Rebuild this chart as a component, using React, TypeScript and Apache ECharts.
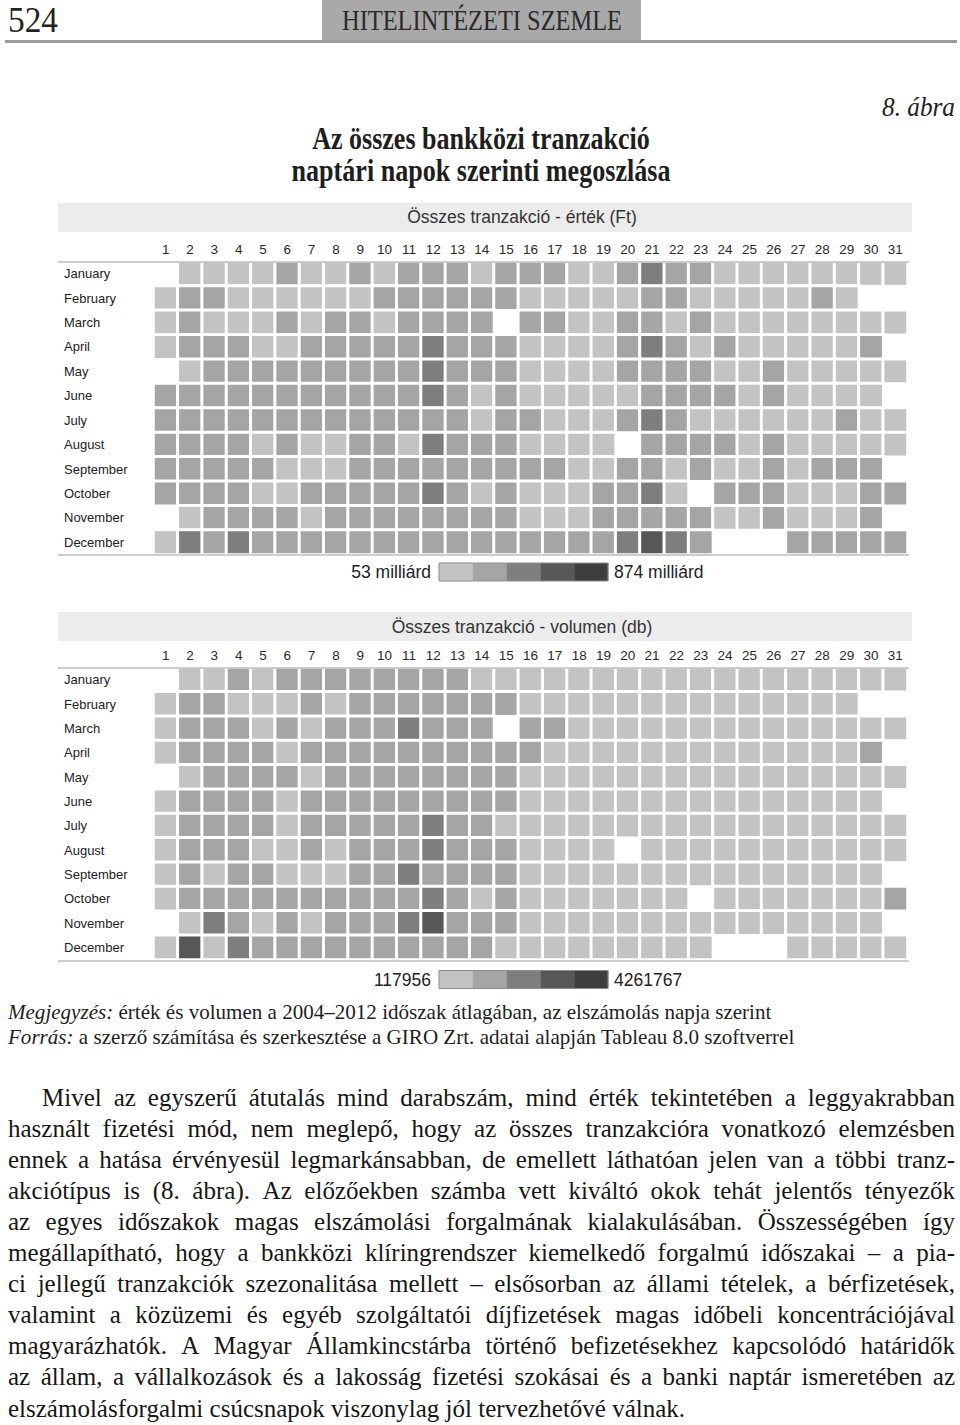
import React, { useEffect, useRef } from "react";
import * as echarts from "echarts";

// ---------- categories / tick labels ----------
const DAYS = ["1","2","3","4","5","6","7","8","9","10","11","12","13","14","15","16","17","18","19","20","21","22","23","24","25","26","27","28","29","30","31"];
const MONTHS = ["January","February","March","April","May","June","July","August","September","October","November","December"];

// ---------- Összes tranzakció - érték (milliárd Ft), estimated per day ----------
const VAL_JAN = [null,170,170,170,170,300,170,170,300,170,300,300,300,170,300,300,300,170,170,300,460,300,300,170,170,170,170,170,170,170,170];
const VAL_FEB = [170,300,300,170,170,170,170,170,170,300,300,300,300,300,300,170,170,170,170,170,300,300,170,170,170,170,170,300,170,null,null];
const VAL_MAR = [170,300,170,170,170,300,170,300,300,170,300,300,300,300,null,300,300,170,170,300,300,170,300,170,170,170,170,170,170,170,170];
const VAL_APR = [170,300,300,300,170,170,300,300,300,300,300,460,300,300,300,170,170,170,170,300,460,300,170,300,170,170,170,170,170,300,null];
const VAL_MAY = [null,170,300,300,300,300,300,300,300,300,300,460,300,300,300,170,170,170,170,300,300,300,300,170,170,300,170,170,170,170,170];
const VAL_JUN = [300,300,300,300,300,300,300,300,300,300,300,460,300,170,300,170,170,170,170,170,300,300,300,300,170,300,170,170,170,170,null];
const VAL_JUL = [300,300,300,300,300,300,300,300,300,300,300,300,300,170,300,300,170,170,170,300,460,300,170,170,170,170,170,170,300,170,170];
const VAL_AUG = [300,300,300,300,170,300,170,170,300,300,170,460,300,300,300,170,170,170,170,null,300,300,300,300,170,300,170,170,170,170,170];
const VAL_SEP = [300,300,300,300,300,170,170,170,300,300,300,300,300,300,300,300,300,170,170,300,300,170,300,170,170,300,170,300,300,300,null];
const VAL_OCT = [300,300,300,300,170,170,300,300,300,300,300,460,300,170,300,170,170,170,300,300,460,170,null,300,300,300,170,170,170,300,300];
const VAL_NOV = [null,170,300,300,300,300,170,300,300,300,300,300,300,300,300,170,170,170,300,300,300,300,300,170,170,300,170,170,170,300,null];
const VAL_DEC = [170,460,300,460,300,300,300,300,300,300,300,300,300,300,300,300,300,300,300,460,680,460,300,null,null,null,300,300,300,300,300];

// ---------- Összes tranzakció - volumen (db), estimated per day ----------
const VOL_JAN = [null,700000,700000,1400000,700000,1400000,1400000,1400000,1400000,1400000,1400000,1400000,1400000,700000,700000,700000,700000,700000,700000,700000,700000,700000,700000,700000,700000,700000,700000,700000,700000,700000,700000];
const VOL_FEB = [700000,1400000,1400000,700000,700000,700000,1400000,700000,1400000,1400000,1400000,1400000,1400000,1400000,1400000,700000,700000,700000,700000,700000,700000,700000,700000,700000,700000,700000,700000,700000,700000,null,null];
const VOL_MAR = [700000,1400000,1400000,1400000,700000,1400000,700000,1400000,1400000,1400000,2200000,1400000,1400000,1400000,null,1400000,1400000,700000,700000,700000,700000,700000,700000,700000,700000,700000,700000,700000,700000,700000,700000];
const VOL_APR = [700000,1400000,1400000,1400000,1400000,700000,1400000,1400000,1400000,1400000,1400000,1400000,1400000,1400000,1400000,1400000,700000,700000,700000,700000,700000,700000,700000,700000,700000,700000,700000,700000,700000,1400000,null];
const VOL_MAY = [null,700000,1400000,1400000,1400000,1400000,700000,1400000,1400000,1400000,1400000,1400000,1400000,1400000,1400000,700000,700000,700000,700000,700000,700000,700000,700000,700000,700000,700000,700000,700000,700000,700000,700000];
const VOL_JUN = [700000,1400000,1400000,1400000,1400000,700000,1400000,1400000,1400000,1400000,1400000,1400000,1400000,1400000,1400000,700000,700000,700000,700000,700000,700000,700000,700000,700000,700000,700000,700000,700000,700000,700000,null];
const VOL_JUL = [700000,1400000,1400000,1400000,1400000,700000,1400000,1400000,1400000,1400000,1400000,2200000,1400000,1400000,700000,700000,700000,700000,700000,700000,700000,700000,700000,700000,700000,700000,700000,700000,700000,700000,700000];
const VOL_AUG = [700000,1400000,1400000,1400000,700000,700000,1400000,700000,1400000,1400000,1400000,2200000,1400000,1400000,1400000,700000,700000,700000,700000,null,700000,700000,700000,700000,700000,700000,700000,700000,700000,700000,700000];
const VOL_SEP = [700000,1400000,700000,1400000,1400000,700000,700000,700000,1400000,1400000,2200000,1400000,1400000,1400000,1400000,700000,700000,700000,700000,700000,700000,700000,700000,700000,700000,700000,700000,700000,700000,700000,null];
const VOL_OCT = [700000,1400000,1400000,1400000,1400000,1400000,1400000,1400000,1400000,1400000,1400000,2200000,1400000,700000,1400000,700000,700000,700000,700000,700000,700000,700000,null,700000,700000,700000,700000,700000,700000,700000,1400000];
const VOL_NOV = [null,700000,2200000,1400000,700000,1400000,700000,1400000,1400000,1400000,2200000,3100000,1400000,1400000,1400000,700000,700000,700000,700000,700000,700000,700000,700000,700000,700000,700000,700000,700000,700000,700000,null];
const VOL_DEC = [700000,3300000,700000,2200000,1400000,1400000,1400000,1400000,1400000,1400000,1400000,1400000,1400000,1400000,700000,700000,700000,700000,700000,700000,700000,700000,700000,null,null,null,700000,700000,700000,700000,700000];

const VAL_ROWS = [VAL_JAN, VAL_FEB, VAL_MAR, VAL_APR, VAL_MAY, VAL_JUN, VAL_JUL, VAL_AUG, VAL_SEP, VAL_OCT, VAL_NOV, VAL_DEC];
const VOL_ROWS = [VOL_JAN, VOL_FEB, VOL_MAR, VOL_APR, VOL_MAY, VOL_JUN, VOL_JUL, VOL_AUG, VOL_SEP, VOL_OCT, VOL_NOV, VOL_DEC];

// colour-scale ranges (legend ends)
const VAL_RANGE = [53, 874];
const VOL_RANGE = [117956, 4261767];
const STEP_COLORS = ["#c3c3c3", "#a5a5a5", "#7e7e7e", "#575757", "#3e3e3e"];

// ---------- texts ----------
const PAGE_NO = "524";
const RUNNING_HEAD = "HITELINTÉZETI SZEMLE";
const FIG_NO = "8. ábra";
const TITLE_LINES = ["Az összes bankközi tranzakció", "naptári napok szerinti megoszlása"];
const PANEL_TITLES = ["Összes tranzakció - érték (Ft)", "Összes tranzakció - volumen (db)"];
const LEGEND_TEXTS = [["53 milliárd", "874 milliárd"], ["117956", "4261767"]];
const NOTE_LINES = [
  ["Megjegyzés:", " érték és volumen a 2004–2012 időszak átlagában, az elszámolás napja szerint"],
  ["Forrás:", " a szerző számítása és szerkesztése a GIRO Zrt. adatai alapján Tableau 8.0 szoftverrel"],
];
const BODY_LINES = [
  "Mivel az egyszerű átutalás mind darabszám, mind érték tekintetében a leggyakrabban",
  "használt fizetési mód, nem meglepő, hogy az összes tranzakcióra vonatkozó elemzésben",
  "ennek a hatása érvényesül legmarkánsabban, de emellett láthatóan jelen van a többi tranz-",
  "akciótípus is (8. ábra). Az előzőekben számba vett kiváltó okok tehát jelentős tényezők",
  "az egyes időszakok magas elszámolási forgalmának kialakulásában. Összességében így",
  "megállapítható, hogy a bankközi klíringrendszer kiemelkedő forgalmú időszakai – a pia-",
  "ci jellegű tranzakciók szezonalitása mellett – elsősorban az állami tételek, a bérfizetések,",
  "valamint a közüzemi és egyéb szolgáltatói díjfizetések magas időbeli koncentrációjával",
  "magyarázhatók. A Magyar Államkincstárba történő befizetésekhez kapcsolódó határidők",
  "az állam, a vállalkozások és a lakosság fizetési szokásai és a banki naptár ismeretében az",
  "elszámolásforgalmi csúcsnapok viszonylag jól tervezhetővé válnak.",
];

const SANS = '"Liberation Sans", Arial, sans-serif';
const SERIF = '"Liberation Serif", "Times New Roman", serif';

function makePieces(range: number[]) {
  const step = (range[1] - range[0]) / STEP_COLORS.length;
  return STEP_COLORS.map((c, i) => {
    const p: any = { gte: range[0] + step * i, color: c };
    if (i < STEP_COLORS.length - 1) p.lt = range[0] + step * (i + 1);
    else p.lte = range[1];
    return p;
  });
}

function toCells(rows: (number | null)[][]) {
  const out: any[] = [];
  rows.forEach((row, m) =>
    row.forEach((v, d) => {
      if (v !== null) out.push([DAYS[d], MONTHS[m], v]);
    })
  );
  return out;
}

export default function App() {
  const ref = useRef<HTMLDivElement>(null);
  useEffect(() => {
    document.body.style.margin = "0";
    const ctx = document.createElement("canvas").getContext("2d")!;
    const measure = (t: string, font: string) => {
      ctx.font = font;
      return ctx.measureText(t).width;
    };
    const fontStr = (size: number, weight = "normal", style = "normal") =>
      `${style} ${weight} ${size}px ${SERIF}`;

    const g: any[] = [];
    const fitText = (
      text: string, x: number, y: number, size: number, target: number,
      align: string, weight = "normal", style = "normal", color = "#1e1e1e"
    ) => {
      const w = measure(text, fontStr(size, weight, style));
      g.push({
        type: "text", x, y, scaleX: target / w, scaleY: 1, z: 50, silent: true,
        style: { text, x: 0, y: 0, fontSize: size, fontFamily: SERIF, fontWeight: weight, fontStyle: style, fill: color, align, verticalAlign: "middle" },
      });
    };

    // running head
    g.push({ type: "rect", shape: { x: 322, y: 0, width: 319, height: 40 }, style: { fill: "#a9a9a9" }, z: 40, silent: true });
    g.push({ type: "line", shape: { x1: 5, y1: 41.5, x2: 957, y2: 41.5 }, style: { stroke: "#9c9c9c", lineWidth: 3 }, z: 40, silent: true });
    fitText(PAGE_NO, 8, 20, 36, 50, "left", "normal", "normal", "#222");
    fitText(RUNNING_HEAD, 482, 20, 30, 280, "center", "normal", "normal", "#2a2a2a");
    fitText(FIG_NO, 955, 107, 28, 73, "right", "normal", "italic", "#222");
    fitText(TITLE_LINES[0], 481, 138, 32, 338, "center", "bold");
    fitText(TITLE_LINES[1], 481, 170, 32, 379, "center", "bold");

    // panel headers, rules and legends
    const panels = [
      { barTop: 203, titleY: 217, lineTop: 262, lineBottom: 555, legendTop: 563 },
      { barTop: 612, titleY: 627, lineTop: 668, lineBottom: 961, legendTop: 970.5 },
    ];
    const legX = 439, legW = 169, legH = 18;
    panels.forEach((p, i) => {
      g.push({ type: "rect", shape: { x: 58, y: p.barTop, width: 854, height: 29 }, style: { fill: "#ececec" }, z: 40, silent: true });
      g.push({
        type: "text", x: 522, y: p.titleY, z: 50, silent: true,
        style: { text: PANEL_TITLES[i], fontSize: 17.5, fontFamily: SANS, fill: "#333", align: "center", verticalAlign: "middle" },
      });
      [p.lineTop, p.lineBottom].forEach((yy) =>
        g.push({ type: "line", shape: { x1: 58, y1: yy, x2: 909, y2: yy }, style: { stroke: "#bdbdbd", lineWidth: 1.6 }, z: 60, silent: true })
      );
      // stepped colour legend
      const segW = legW / STEP_COLORS.length;
      STEP_COLORS.forEach((c, k) =>
        g.push({ type: "rect", shape: { x: legX + k * segW, y: p.legendTop, width: segW + 0.3, height: legH }, style: { fill: c }, z: 45, silent: true })
      );
      g.push({ type: "rect", shape: { x: legX, y: p.legendTop, width: legW, height: legH }, style: { fill: "none", stroke: "#8c8c8c", lineWidth: 1 }, z: 46, silent: true });
      const cy = p.legendTop + legH / 2;
      g.push({
        type: "text", x: legX - 8, y: cy, z: 50, silent: true,
        style: { text: LEGEND_TEXTS[i][0], fontSize: 17.5, fontFamily: SANS, fill: "#222", align: "right", verticalAlign: "middle" },
      });
      g.push({
        type: "text", x: legX + legW + 6, y: cy, z: 50, silent: true,
        style: { text: LEGEND_TEXTS[i][1], fontSize: 17.5, fontFamily: SANS, fill: "#222", align: "left", verticalAlign: "middle" },
      });
    });

    // notes
    const noteY = [1012, 1037];
    const noteW = [764, 787];
    NOTE_LINES.forEach((parts, i) => {
      const size = 21;
      const w = measure(parts[0], fontStr(size, "normal", "italic")) + measure(parts[1], fontStr(size));
      g.push({
        type: "text", x: 8, y: noteY[i], scaleX: noteW[i] / w, scaleY: 1, z: 50, silent: true,
        style: {
          text: `{i|${parts[0]}}${parts[1]}`, x: 0, y: 0, fontSize: size, fontFamily: SERIF, fill: "#1e1e1e",
          align: "left", verticalAlign: "middle",
          rich: { i: { fontStyle: "italic", fontSize: size, fontFamily: SERIF, fill: "#1e1e1e" } },
        },
      });
    });

    // body paragraph, justified
    const bodySize = 25;
    const bodyFont = fontStr(bodySize);
    const spaceW = measure(" ", bodyFont);
    BODY_LINES.forEach((line, i) => {
      const y = 1097 + i * 31.1;
      const x0 = i === 0 ? 42 : 8;
      const x1 = 955;
      const words = line.split(" ");
      const ws = words.map((w) => measure(w, bodyFont));
      const sum = ws.reduce((a, b) => a + b, 0);
      const last = i === BODY_LINES.length - 1;
      const gap = last ? spaceW : (x1 - x0 - sum) / (words.length - 1);
      let x = x0;
      words.forEach((w, k) => {
        g.push({
          type: "text", x, y, z: 50, silent: true,
          style: { text: w, fontSize: bodySize, fontFamily: SERIF, fill: "#161616", align: "left", verticalAlign: "middle" },
        });
        x += ws[k] + gap;
      });
    });

    const grids = [
      { left: 153.5, top: 261.5, width: 754, height: 293 },
      { left: 153.5, top: 667.5, width: 754, height: 292 },
    ];
    const xAxes = grids.map((_, i) => ({
      type: "category", gridIndex: i, data: DAYS, position: "top",
      axisLine: { show: false }, axisTick: { show: false }, splitLine: { show: false },
      axisLabel: { interval: 0, fontSize: 13.5, color: "#2a2a2a", fontFamily: SANS, margin: 5 },
    }));
    const yAxes = grids.map((gr, i) => ({
      type: "category", gridIndex: i, data: MONTHS, inverse: true,
      axisLine: { show: false }, axisTick: { show: false }, splitLine: { show: false },
      axisLabel: { interval: 0, fontSize: 13, color: "#222", fontFamily: SANS, align: "left", margin: gr.left - 64 },
    }));
    const visualMaps = [VAL_RANGE, VOL_RANGE].map((range, i) => ({
      type: "piecewise", seriesIndex: i, show: false,
      pieces: makePieces(range),
    }));

    const chart = echarts.init(ref.current!, null, { renderer: "svg" });
    chart.setOption({
      animation: false,
      backgroundColor: "#ffffff",
      grid: grids,
      xAxis: xAxes,
      yAxis: yAxes,
      visualMap: visualMaps,
      series: [VAL_ROWS, VOL_ROWS].map((rows, i) => ({
        type: "heatmap", xAxisIndex: i, yAxisIndex: i, data: toCells(rows),
        itemStyle: { borderColor: "#ffffff", borderWidth: 3 },
        emphasis: { disabled: true },
        silent: true,
      })),
      graphic: g,
    });
    return () => chart.dispose();
  }, []);
  return <div ref={ref} style={{ width: 960, height: 1425 }} />;
}
